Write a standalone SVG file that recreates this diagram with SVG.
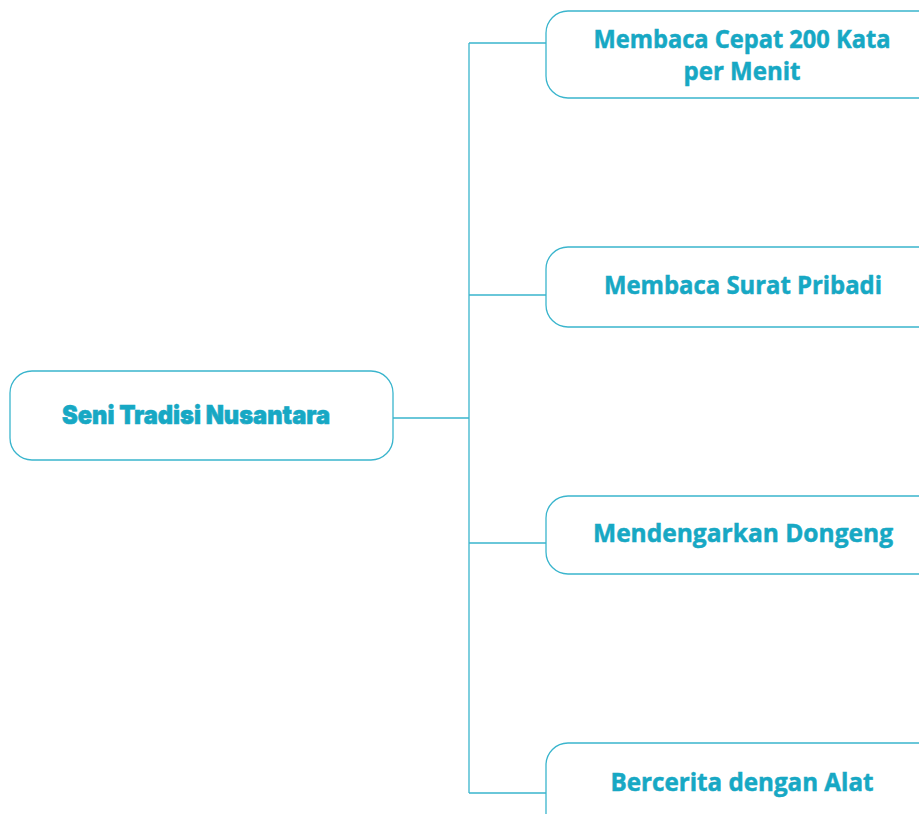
<svg xmlns="http://www.w3.org/2000/svg" width="919" height="814" viewBox="0 0 919 814">
<style>
.box{fill:#fff;stroke:#3ab5cd;stroke-width:1.3}
.t{font-family:"Open Sans",Lato,"Liberation Sans",sans-serif;font-weight:700;font-size:25px;fill:#17a8c4;text-anchor:middle;stroke:#17a8c4;stroke-width:0.5}
.tc{font-family:Inter,"Open Sans","Liberation Sans",sans-serif;font-weight:900;font-size:26px;fill:#17a8c4;text-anchor:middle;stroke:#17a8c4;stroke-width:0.6}
.c{fill:none;stroke:#3ab5cd;stroke-width:1.3}
</style>
<rect width="919" height="814" fill="#fff"/>
<g id="connectors">
<path class="c" d="M393 418H469M469 43V793M469 43H547M469 295H547M469 543H547M469 793H547"/>
</g>
<g id="center">
<rect class="box" x="10" y="371" width="383" height="89" rx="22"/>
<text class="tc" x="196" y="424" textLength="268" lengthAdjust="spacingAndGlyphs">Seni Tradisi Nusantara</text>
</g>
<g id="n1">
<rect class="box" x="546" y="11" width="400" height="87" rx="22"/>
<text class="t" x="742" y="48" textLength="297" lengthAdjust="spacingAndGlyphs">Membaca Cepat 200 Kata</text>
<text class="t" x="742" y="80" textLength="117" lengthAdjust="spacingAndGlyphs">per Menit</text>
</g>
<g id="n2">
<rect class="box" x="546" y="247" width="400" height="80" rx="22"/>
<text class="t" x="743" y="294" textLength="278" lengthAdjust="spacingAndGlyphs">Membaca Surat Pribadi</text>
</g>
<g id="n3">
<rect class="box" x="546" y="496" width="400" height="78" rx="22"/>
<text class="t" x="743" y="542" textLength="300" lengthAdjust="spacingAndGlyphs">Mendengarkan Dongeng</text>
</g>
<g id="n4">
<rect class="box" x="546" y="743" width="400" height="100" rx="22"/>
<text class="t" x="742" y="791" textLength="263" lengthAdjust="spacingAndGlyphs">Bercerita dengan Alat</text>
</g>
</svg>
